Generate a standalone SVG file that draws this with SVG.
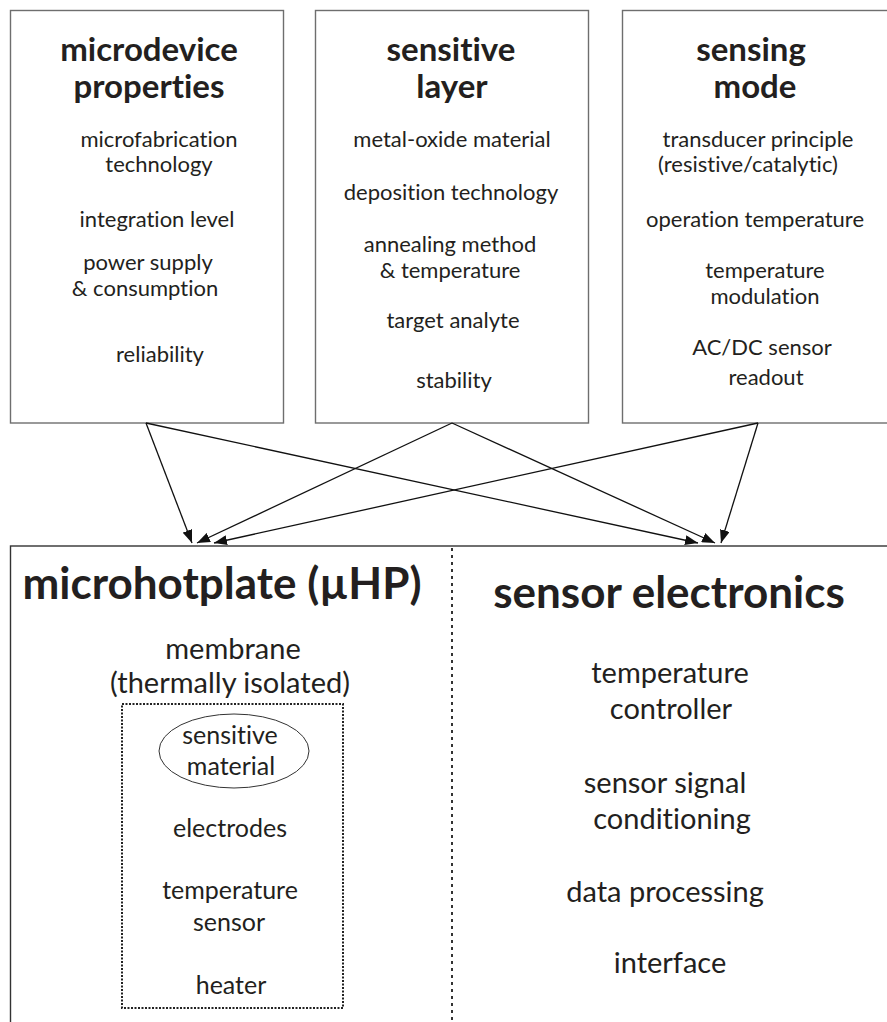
<svg xmlns="http://www.w3.org/2000/svg" width="887" height="1022" viewBox="0 0 887 1022">
<style>
.box{fill:#fff;stroke:#6e6e6e;stroke-width:1.4}
.bbox{fill:#fff;stroke:#333;stroke-width:1.4}
.t{font-family:Lato,"Open Sans",sans-serif;fill:#231f20;text-anchor:middle;font-variant-ligatures:none;font-feature-settings:"liga" 0}
.h1{font-size:33px;font-weight:bold}
.h2{font-size:44px;font-weight:bold}
.b1{font-size:22px}
.b2{font-size:29px}
.b3{font-size:25px}
.conn{stroke:#111;stroke-width:1.3;fill:none;marker-end:url(#ah)}
</style>
<defs>
<marker id="ah" markerUnits="userSpaceOnUse" markerWidth="14" markerHeight="10" refX="13" refY="5" orient="auto"><path d="M0,0 L13,5 L0,10 z" fill="#111"/></marker>
</defs>
<rect width="887" height="1022" fill="#fff"/>
<g id="microdevice-properties">
<rect class="box" x="10.5" y="10.5" width="273" height="412.5"/>
<text class="t h1" x="149" y="61">microdevice</text>
<text class="t h1" x="149" y="98">properties</text>
<text class="t b1" x="159" y="147">microfabrication</text>
<text class="t b1" x="159" y="172">technology</text>
<text class="t b1" x="157" y="227">integration level</text>
<text class="t b1" x="148" y="270">power supply</text>
<text class="t b1" x="145" y="296">&amp; consumption</text>
<text class="t b1" x="160" y="362">reliability</text>
</g>
<g id="sensitive-layer">
<rect class="box" x="315.5" y="10.5" width="273" height="412.5"/>
<text class="t h1" x="451" y="61">sensitive</text>
<text class="t h1" x="452" y="98">layer</text>
<text class="t b1" x="452" y="147">metal-oxide material</text>
<text class="t b1" x="451" y="200">deposition technology</text>
<text class="t b1" x="450" y="252">annealing method</text>
<text class="t b1" x="450" y="278">&amp; temperature</text>
<text class="t b1" x="453" y="328">target analyte</text>
<text class="t b1" x="454" y="388">stability</text>
</g>
<g id="sensing-mode">
<rect class="box" x="622.5" y="10.5" width="300" height="412.5"/>
<text class="t h1" x="751" y="61">sensing</text>
<text class="t h1" x="755" y="98">mode</text>
<text class="t b1" x="758" y="147">transducer principle</text>
<text class="t b1" x="748" y="172">(resistive/catalytic)</text>
<text class="t b1" x="755" y="227">operation temperature</text>
<text class="t b1" x="765" y="278">temperature</text>
<text class="t b1" x="765" y="304">modulation</text>
<text class="t b1" x="762" y="355">AC/DC sensor</text>
<text class="t b1" x="766" y="385">readout</text>
</g>
<g id="system">
<rect class="bbox" x="10.5" y="546" width="920" height="520"/>
<line x1="452" y1="548" x2="452" y2="1022" stroke="#333" stroke-width="2" stroke-dasharray="3,4"/>
</g>
<g id="microhotplate">
<text class="t h2" x="222" y="599">microhotplate (µHP)</text>
<text class="t b2" x="233" y="659">membrane</text>
<text class="t b2" x="230" y="693">(thermally isolated)</text>
<rect x="122" y="704" width="221" height="304" fill="none" stroke="#222" stroke-width="2" stroke-dasharray="2,1.5"/>
<ellipse cx="234" cy="751" rx="75" ry="37" fill="none" stroke="#333" stroke-width="1"/>
<text class="t b3" x="230" y="744">sensitive</text>
<text class="t b3" x="231" y="775">material</text>
<text class="t b3" x="230" y="837">electrodes</text>
<text class="t b3" x="230" y="899">temperature</text>
<text class="t b3" x="229" y="931">sensor</text>
<text class="t b3" x="231" y="994">heater</text>
</g>
<g id="sensor-electronics">
<text class="t h2" x="669" y="608">sensor electronics</text>
<text class="t b2" x="670" y="683">temperature</text>
<text class="t b2" x="671" y="719">controller</text>
<text class="t b2" x="665" y="793">sensor signal</text>
<text class="t b2" x="672" y="829">conditioning</text>
<text class="t b2" x="665" y="902">data processing</text>
<text class="t b2" x="670" y="973">interface</text>
</g>
<g id="connectors">
<line class="conn" x1="146" y1="423" x2="192" y2="543"/>
<line class="conn" x1="146" y1="423" x2="698" y2="543"/>
<line class="conn" x1="452" y1="423" x2="197" y2="543"/>
<line class="conn" x1="452" y1="423" x2="715" y2="543"/>
<line class="conn" x1="758" y1="423" x2="214" y2="543"/>
<line class="conn" x1="758" y1="423" x2="721" y2="543"/>
</g>
</svg>
